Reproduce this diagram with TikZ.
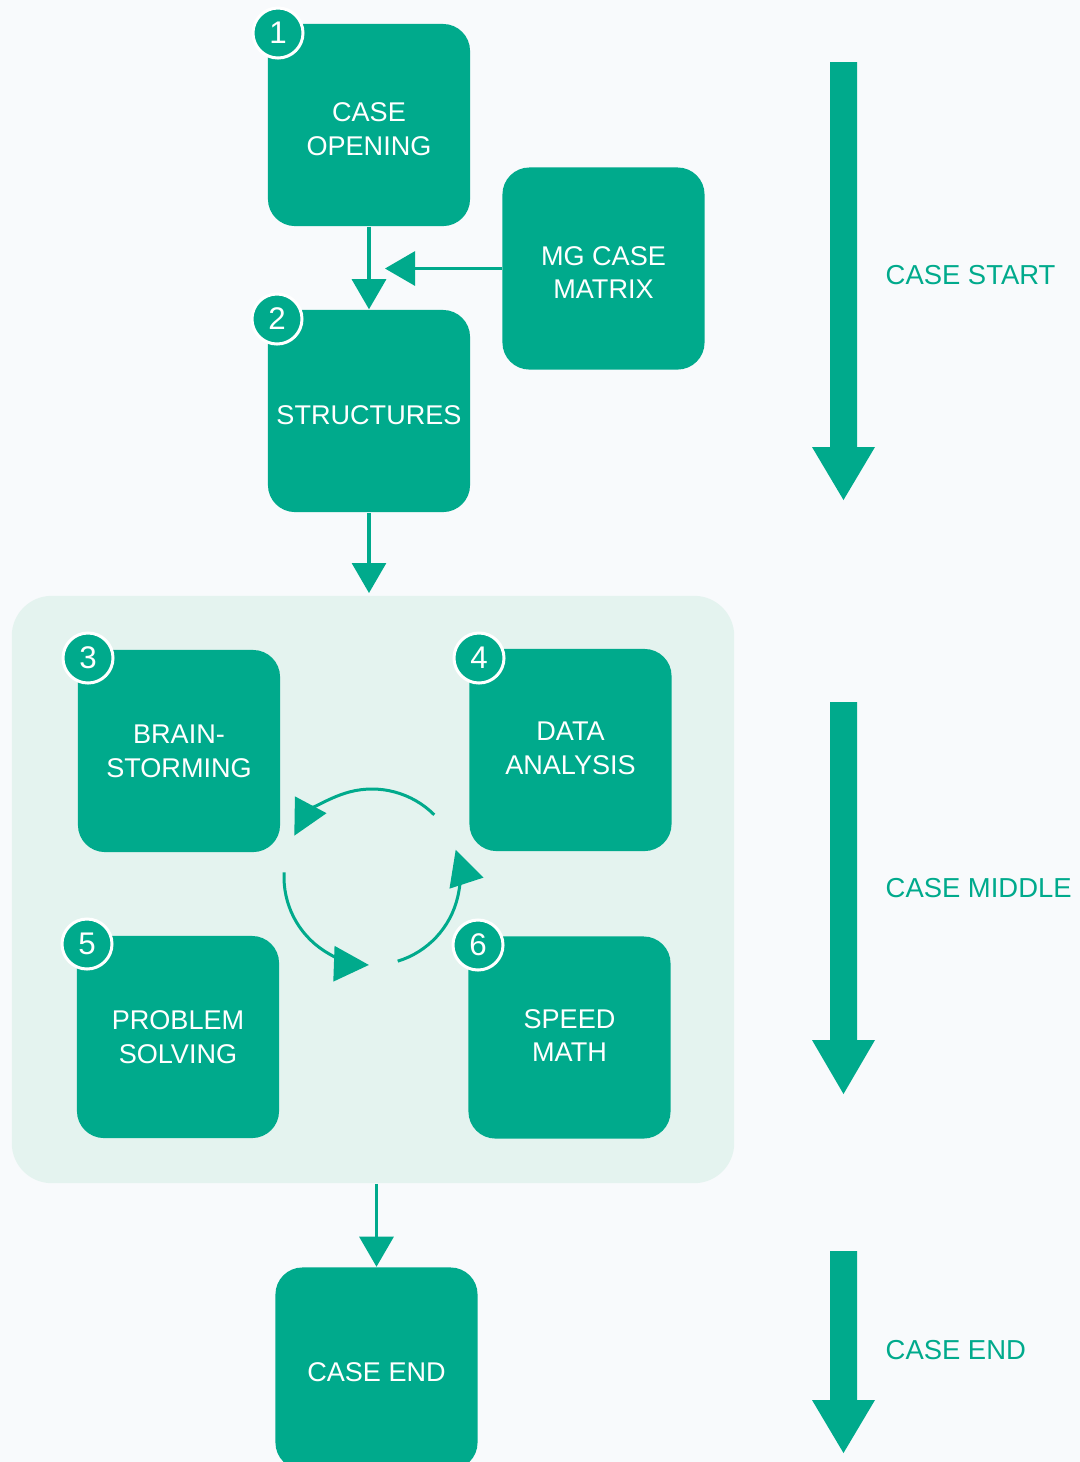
\documentclass[tikz,border=0pt]{standalone}
\usepackage{fontspec}
\setmainfont{Liberation Sans}
\usetikzlibrary{arrows.meta,calc}
\definecolor{mgteal}{HTML}{00AA8C}
\definecolor{bgcol}{HTML}{F8FAFC}
\definecolor{panelcol}{HTML}{E4F3EF}
\begin{document}
\begin{tikzpicture}[x=0.01cm,y=0.01cm,
 box/.style={fill=mgteal, rounded corners=0.27cm, minimum width=2.02cm, minimum height=2.02cm, inner sep=0pt},
 boxtext/.style={text=white, align=center, inner sep=0pt, yshift=-0.04cm, font=\fontsize{7.7}{9.6}\selectfont},
 num/.style={circle, fill=mgteal, draw=white, line width=0.3mm, minimum size=0.5cm, inner sep=0pt, text=white, font=\fontsize{8.9}{10}\selectfont},
 conn/.style={draw=mgteal, line width=0.3mm, -{Triangle[length=3mm,width=3.4mm]}},
 cyc/.style={draw=mgteal, line width=0.3mm, -{Triangle[length=3.5mm,width=3.5mm]}},
 lbl/.style={text=mgteal, anchor=west, font=\fontsize{7.8}{9.6}\selectfont, inner sep=0pt},
 bigarrow/.style={fill=mgteal}
]
\fill[bgcol] (0,0) rectangle (1080,-1462);
\useasboundingbox (0,0) rectangle (1080,-1462);

% panel
\node[fill=panelcol, rounded corners=0.4cm, minimum width=7.22cm, minimum height=5.87cm, inner sep=0pt] (panel) at (373,-889.5) {};

% boxes
\node[box, label={[boxtext]center:{CASE\\OPENING}}] (open) at (369,-125) {};
\node[box, label={[boxtext]center:{MG CASE\\MATRIX}}] (mg) at (603.5,-268.5) {};
\node[box, label={[boxtext]center:{STRUCTURES}}] (struct) at (369,-411) {};
\node[box, label={[boxtext, yshift=0.04cm]center:{BRAIN-\\STORMING}}] (brain) at (179,-751) {};
\node[box, label={[boxtext, yshift=0.06cm]center:{DATA\\ANALYSIS}}] (data) at (570.5,-750) {};
\node[box, label={[boxtext, yshift=0.04cm]center:{PROBLEM\\SOLVING}}] (prob) at (178,-1037) {};
\node[box, label={[boxtext, yshift=0.06cm]center:{SPEED\\MATH}}] (speed) at (569.5,-1037.5) {};
\node[box, label={[boxtext]center:{CASE END}}] (end) at (376.5,-1368.5) {};

% number badges
\node[num] (n1) at (278,-33) {1};
\node[num] (n2) at (277,-319) {2};
\node[num] (n3) at (88,-658) {3};
\node[num] (n4) at (479,-658) {4};
\node[num] (n5) at (87,-944) {5};
\node[num] (n6) at (478,-945) {6};

% connectors
\coordinate (mgtip) at (385,-268.5);
\coordinate (paneltop) at (369,-593);
\draw[conn] (open.south) -- (struct.north);
\draw[conn] (mg.west) -- (mgtip);
\draw[conn] (struct.south) -- (paneltop);
\draw[conn] (panel.south -| end.north) -- (end.north);

% cycle arrows
\coordinate (cc) at (372,-877);
\draw[cyc] ($(cc)+(45:88)$) arc[start angle=45, end angle=152, radius=88];
\draw[cyc] ($(cc)+(177:88)$) arc[start angle=177, end angle=268, radius=88];
\draw[cyc] ($(cc)+(287:88)$) arc[start angle=287, end angle=378, radius=88];

% big phase arrows
\fill[bigarrow] (830,-62) -- (857,-62) -- (857,-447) -- (875,-447) -- (843.5,-500) -- (812,-447) -- (830,-447) -- cycle;
\fill[bigarrow] (830,-702) -- (857,-702) -- (857,-1040) -- (875,-1040) -- (843.5,-1094) -- (812,-1040) -- (830,-1040) -- cycle;
\fill[bigarrow] (830,-1251) -- (857,-1251) -- (857,-1400) -- (875,-1400) -- (843.5,-1453) -- (812,-1400) -- (830,-1400) -- cycle;

% phase labels
\node[lbl] (lstart) at (885,-275) {CASE START};
\node[lbl] (lmid) at (885,-888) {CASE MIDDLE};
\node[lbl] (lend) at (885,-1350) {CASE END};
\end{tikzpicture}
\end{document}
